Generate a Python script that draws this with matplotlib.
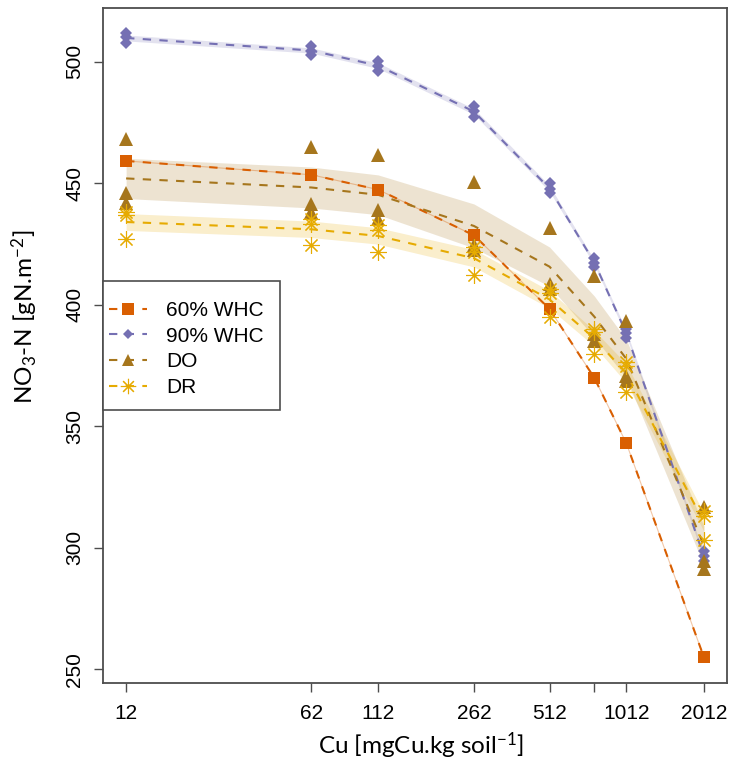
import numpy as np
import matplotlib
matplotlib.use("Agg")
import matplotlib.pyplot as plt
from matplotlib.lines import Line2D
from matplotlib.patches import Rectangle
from matplotlib.ticker import NullLocator

plt.rcParams["font.family"] = ["Liberation Sans", "DejaVu Sans"]
plt.rcParams["mathtext.default"] = "regular"

# Cu doses (mgCu/kg soil)
dose = [12, 62, 112, 262, 512, 762, 1012, 2012]
tick_labels = ["12", "62", "112", "262", "512", "", "1012", "2012"]

# 60% WHC: replicates overlap, one value per dose
whc60 = [459.2, 453.5, 447.4, 428.6, 398.3, 369.9, 343.0, 255.0]

# 3 replicates per dose
whc90 = [[511.8, 510.0, 507.6], [506.5, 504.6, 502.8], [500.4, 498.4, 496.4],
         [481.6, 479.6, 477.4], [450.0, 447.8, 445.8], [419.2, 417.4, 415.6],
         [390.2, 388.2, 386.4], [298.6, 296.6, 294.6]]
do_ = [[468.4, 445.8, 441.8], [465.0, 441.6, 438.2], [461.5, 438.9, 435.4],
       [450.5, 424.4, 422.4], [431.8, 408.7, 406.6], [412.0, 388.0, 385.3],
       [393.5, 370.9, 368.8], [317.0, 294.6, 291.2]]
dr = [[438.2, 436.8, 427.2], [435.4, 433.4, 424.4], [432.7, 430.6, 421.7],
      [423.7, 421.7, 412.1], [406.6, 405.0, 395.0], [390.0, 388.7, 379.8],
      [376.3, 375.0, 364.0], [315.2, 313.2, 303.1]]

names = ["60% WHC", "90% WHC", "DO", "DR"]
colors = ["#D95F02", "#7570B3", "#A6761D", "#E6AB02"]

fig = plt.figure(figsize=(7.35, 7.64), dpi=100)
ax = fig.add_axes([103 / 735, 1 - 682.7 / 764, 624 / 735, 674.4 / 764])

x = np.array(dose, dtype=float)
dash = (0, (4, 4))

# bands (mean +/- se)
for reps, c in [(whc90, colors[1]), (do_, colors[2]), (dr, colors[3])]:
    r = np.array(reps)
    m = r.mean(axis=1)
    se = r.std(axis=1, ddof=1) / np.sqrt(r.shape[1])
    ax.fill_between(x, m - se, m + se, color=c, alpha=0.2, lw=0)

ax.plot(x, whc60, color=colors[0], lw=0.8, alpha=0.35)

# mean lines
ax.plot(x, whc60, color=colors[0], lw=1.5, ls=dash)
for reps, c in [(whc90, colors[1]), (do_, colors[2]), (dr, colors[3])]:
    ax.plot(x, np.array(reps).mean(axis=1), color=c, lw=1.5, ls=dash)

# points
ax.plot(x, whc60, ls="none", marker="s", ms=9, color=colors[0], mew=0)
xr = np.repeat(x, 3)
ax.plot(xr, np.array(whc90).ravel(), ls="none", marker="D", ms=6, color=colors[1], mew=0)
ax.plot(xr, np.array(do_).ravel(), ls="none", marker="^", ms=10, color=colors[2], mew=0)
ax.plot(xr, np.array(dr).ravel(), ls="none", marker=(8, 2, 0), ms=12, color=colors[3], mew=0.8)

ax.set_xscale("log")
ext = (2012 / 12) ** 0.04
ax.set_xlim(12 / ext, 2012 * ext)
ax.set_ylim(244.5, 522)
ax.set_xticks(dose)
ax.set_xticklabels(tick_labels)
ax.xaxis.set_minor_locator(NullLocator())
ax.set_yticks([250, 300, 350, 400, 450, 500])
for lab in ax.get_yticklabels():
    lab.set_rotation(90)
    lab.set_va("center")

for s in ax.spines.values():
    s.set_color("#4d4d4d")
    s.set_linewidth(1.3)
ax.tick_params(length=6.5, width=1, color="#4d4d4d", labelsize=15, pad=9)
ax.tick_params(axis="y", pad=7)

fig.text(421 / 735, 1 - 746 / 764, "Cu [mgCu.kg soil$^{-1}$]", family="Lato",
         fontsize=17.5, ha="center", va="center")
fig.text(25 / 735, 1 - 317 / 764, "NO$_3$-N [gN.m$^{-2}$]", family="Lato",
         fontsize=17.5, ha="center", va="center", rotation=90)

# legend box
fig.patches.append(Rectangle((103 / 735, 1 - 410 / 764), 177 / 735, 129 / 764,
                             transform=fig.transFigure, fc="white", ec="#4d4d4d",
                             lw=1.2, zorder=4))
handles = [
    Line2D([], [], color=colors[0], ls=dash, lw=1.5, marker="s", ms=8, mew=0),
    Line2D([], [], color=colors[1], ls=dash, lw=1.5, marker="D", ms=5.5, mew=0),
    Line2D([], [], color=colors[2], ls=dash, lw=1.5, marker="^", ms=9, mew=0),
    Line2D([], [], color=colors[3], ls=dash, lw=1.5, marker=(8, 2, 0), ms=11, mew=0.8),
]
leg = fig.legend(handles, names, loc="upper left", bbox_to_anchor=(101 / 735, 1 - 292.5 / 764),
                 borderaxespad=0, fontsize=15, handlelength=1.83, handletextpad=0.9,
                 labelspacing=0.32, borderpad=0.4, frameon=False, numpoints=1)
leg.set_zorder(5)

fig.savefig("out.png", dpi=100)
